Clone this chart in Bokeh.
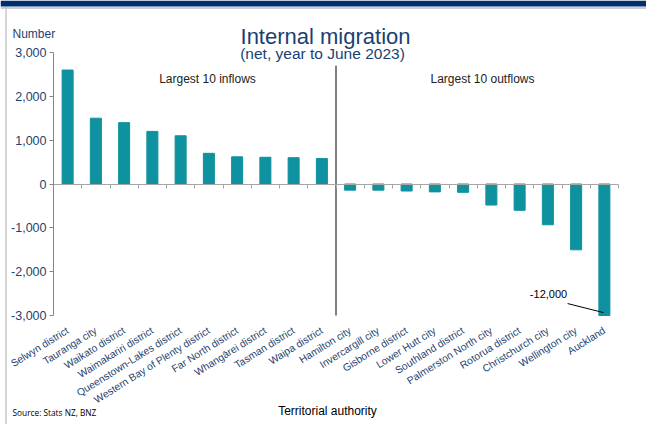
import math
from bokeh.plotting import figure
from bokeh.models import (Label, Span, FixedTicker, NumeralTickFormatter, Range1d,
                          LinearAxis, BoxAnnotation)
from bokeh.embed import file_html
from bokeh.resources import INLINE

# ---- data ----
inflow_names = ["Selwyn district", "Tauranga city", "Waikato district", "Waimakariri district",
                "Queenstown-Lakes district", "Western Bay of Plenty district", "Far North district",
                "Whangārei district", "Tasman district", "Waipa district"]
inflow_values = [2600, 1500, 1400, 1200, 1100, 700, 620, 610, 600, 580]
outflow_names = ["Hamilton city", "Invercargill city", "Gisborne district", "Lower Hutt city",
                 "Southland district", "Palmerston North city", "Rotorua district",
                 "Christchurch city", "Wellington city", "Auckland"]
outflow_values = [-140, -140, -160, -180, -190, -480, -600, -930, -1500, -12000]
y_ticks = [-3000, -2000, -1000, 0, 1000, 2000, 3000]
callout_text = "-12,000"

names = inflow_names + outflow_names
values = inflow_values + outflow_values
n = len(names)
xs = list(range(n))
ymin, ymax = y_ticks[0], y_ticks[-1]
shown = [max(v, ymin) for v in values]   # bars are cut at the axis floor (Auckland)

# ---- layout (pixels) ----
W, H = 646, 424
PX_LEFT, PX_RIGHT, PX_TOP, PX_BOTTOM = 53, 618, 52, 315
ux = (PX_RIGHT - PX_LEFT) / n
uy = (PX_BOTTOM - PX_TOP) / (ymax - ymin)
x_rng = Range1d(-0.5 - PX_LEFT / ux, n - 0.5 + (W - PX_RIGHT) / ux)
y_rng = Range1d(ymin - (H - PX_BOTTOM) / uy, ymax + PX_TOP / uy)

BAR = "#0F929F"
NAVY = "#1A3F72"
TICKC = "#1F3F6E"
GREY = "#A6A6A6"
FONT = "Liberation Sans"

p = figure(width=W, height=H, output_backend="svg", toolbar_location=None,
           x_range=x_rng, y_range=y_rng, x_axis_location=None, y_axis_location=None,
           min_border=0)
p.min_border_left = p.min_border_right = p.min_border_top = p.min_border_bottom = 0
p.outline_line_color = None
p.grid.visible = False
p.title.visible = False

# frame decorations
p.add_layout(Span(location=H - 7.5, location_units="screen", dimension="width",
                  line_color="#B4BCCB", line_width=1.5))
p.add_layout(Span(location=5.5, location_units="screen", dimension="height",
                  line_color="#C8C8C8", line_width=1.5))
p.add_layout(BoxAnnotation(left=0, right=W, bottom=H - 6, top=H,
                           left_units="screen", right_units="screen",
                           bottom_units="screen", top_units="screen",
                           fill_color="#002D6E", fill_alpha=1, line_color=None))

p.vbar(x=xs, top=shown, bottom=0, width=0.39, fill_color=BAR, line_color=BAR)

# zero line axis with category-boundary ticks
za = LinearAxis(fixed_location=0, bounds=(-0.5, n - 0.5),
                ticker=FixedTicker(ticks=[i + 0.5 for i in xs]))
za.axis_line_color = GREY
za.major_tick_line_color = GREY
za.major_tick_out = 4
za.major_tick_in = 0
za.minor_tick_line_color = None
za.major_label_text_color = None
p.add_layout(za, "below")

# category label axis at the floor
xa = LinearAxis(fixed_location=ymin, bounds=(-0.5, n - 0.5), ticker=FixedTicker(ticks=xs))
xa.major_label_overrides = {i: nm for i, nm in zip(xs, names)}
xa.major_label_orientation = math.radians(32)
xa.axis_line_color = None
xa.major_tick_line_color = None
xa.minor_tick_line_color = None
xa.major_label_text_font = FONT
xa.major_label_text_font_size = "10.3px"
xa.major_label_text_color = TICKC
xa.major_label_standoff = 8
p.add_layout(xa, "below")

# value axis
ya = LinearAxis(fixed_location=-0.5, bounds=(ymin, ymax), ticker=FixedTicker(ticks=y_ticks),
                formatter=NumeralTickFormatter(format="0,0"))
ya.major_tick_out = 4
ya.major_tick_in = 0
ya.minor_tick_line_color = None
ya.axis_line_color = "#868686"
ya.major_tick_line_color = "#868686"
ya.major_label_text_font = FONT
ya.major_label_text_font_size = "12.5px"
ya.major_label_text_color = TICKC
ya.major_label_standoff = 3
p.add_layout(ya, "left")

# divider between inflows and outflows
div_x = len(inflow_names) - 0.5
p.segment(x0=[div_x], y0=[ymin], x1=[div_x], y1=[2700], line_color="black", line_width=1)

def slabel(x, y, text, size, color, align="left", baseline="middle", font=FONT):
    p.add_layout(Label(x=x, y=H - y, x_units="screen", y_units="screen", text=text,
                       text_align=align, text_baseline=baseline, text_font=font,
                       text_font_size=size, text_color=color))

slabel(325, 36, "Internal migration", "22px", NAVY, align="center", baseline="alphabetic")
slabel(322, 53, "(net, year to June 2023)", "15.5px", NAVY, align="center", baseline="alphabetic")
slabel(12, 33, "Number", "12px", TICKC)
slabel(12, 412, "Source: Stats NZ, BNZ", "8.3px", "black", font="Open Sans")
slabel(327, 410, "Territorial authority", "12px", "black", align="center")
slabel(207, 78, "Largest 10 inflows", "12px", "#222222", align="center")
slabel(482, 78, "Largest 10 outflows", "12px", "#222222", align="center")
slabel(548, 293, callout_text, "11px", "black", align="center")
p.segment(x0=[17.7], y0=[-2728], x1=[18.97], y1=[-2934], line_color="black", line_width=1)

open("out.html", "w").write(file_html(p, INLINE))
